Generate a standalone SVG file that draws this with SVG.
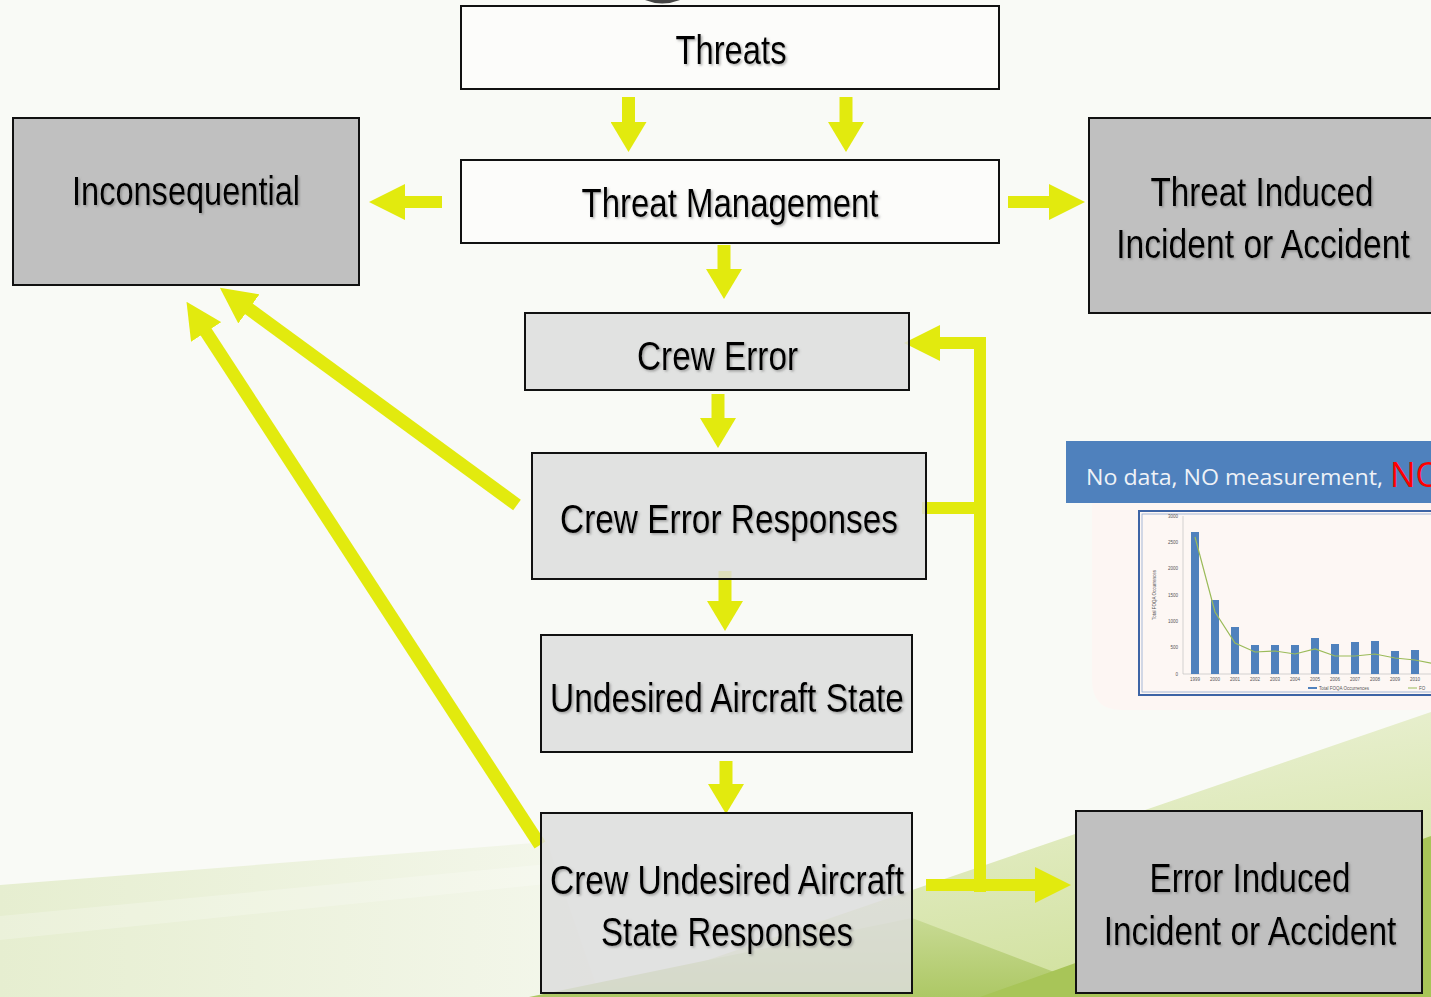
<svg xmlns="http://www.w3.org/2000/svg" width="1431" height="997" viewBox="0 0 1431 997">
  <defs>
    <style>
      .box { stroke: #111; stroke-width: 2; }
      .white { fill: #fcfcfa; }
      .light { fill: #dcdcdc; fill-opacity: 0.84; }
      .dark { fill: #c0c0c0; }
      .lbl { font-family: "Liberation Sans Narrow", "Liberation Sans", Arial, sans-serif; font-size: 40px; fill: #000; text-anchor: middle; filter: url(#shadow); }
      .conn { fill: none; stroke: #e2ea0e; stroke-width: 13; stroke-linejoin: miter; }
      .tick { font-family: "Liberation Sans", Arial, sans-serif; font-size: 4.5px; fill: #555; }
    </style>
    <filter id="shadow" filterUnits="userSpaceOnUse" x="-2000" y="-2000" width="6000" height="6000">
      <feDropShadow dx="1.5" dy="1.5" stdDeviation="1" flood-color="#666" flood-opacity="0.55"/>
    </filter>
    <!-- arrowheads, base at the path end -->
    <marker id="head" markerUnits="userSpaceOnUse" viewBox="0 0 30 36" refX="1" refY="18" markerWidth="30" markerHeight="36" orient="auto">
      <path d="M0,0 L30,18 L0,36 Z" fill="#e2ea0e"/>
    </marker>
    <marker id="headLong" markerUnits="userSpaceOnUse" viewBox="0 0 36 36" refX="1" refY="18" markerWidth="36" markerHeight="36" orient="auto">
      <path d="M0,0 L36,18 L0,36 Z" fill="#e2ea0e"/>
    </marker>
    <linearGradient id="greenR" x1="0.3" y1="0" x2="0.7" y2="1">
      <stop offset="0" stop-color="#eef3dc"/>
      <stop offset="1" stop-color="#cfe09a"/>
    </linearGradient>
    <linearGradient id="greenL" x1="0" y1="0" x2="1" y2="0">
      <stop offset="0" stop-color="#e6eed0"/>
      <stop offset="1" stop-color="#f4f7ec"/>
    </linearGradient>
    <linearGradient id="greenMid" x1="0" y1="0" x2="0" y2="1">
      <stop offset="0" stop-color="#c8da94"/>
      <stop offset="1" stop-color="#adc865"/>
    </linearGradient>
    <clipPath id="panelClip">
      <path d="M1092,503 H1431 V710 H1122 Q1092,710 1092,680 Z"/>
    </clipPath>
  </defs>

  <!-- page background -->
  <rect x="0" y="0" width="1431" height="997" fill="#f9faf6"/>
  <g id="backdrop">
    <polygon points="0,885 547,842 600,997 0,997" fill="url(#greenL)"/>
    <polygon points="0,916 547,864 547,884 0,940" fill="#ffffff" opacity="0.22"/>
    <polygon points="600,997 1431,712 1431,997" fill="url(#greenR)"/>
    <polygon points="529,997 912,918 1120,997" fill="url(#greenMid)"/>
    <polygon points="980,997 1431,836 1431,997" fill="#a8c558"/>
    <path d="M645,0 Q662,7 680,0 Z" fill="#444"/>
  </g>

  <!-- chart panel -->
  <g id="chart">
    <rect x="1066" y="441" width="370" height="62" fill="#4f81bd"/>
    <text x="1086" y="485" font-family="'Open Sans', 'Liberation Sans', sans-serif" font-size="22" fill="#eef2f7" textLength="297" lengthAdjust="spacingAndGlyphs">No data, NO measurement,</text>
    <text x="1390" y="487" font-family="'Open Sans', 'Liberation Sans', sans-serif" font-size="34" fill="#ff0000">NO</text>
    <path d="M1092,503 H1431 V710 H1122 Q1092,710 1092,680 Z" fill="#fdf6f3"/>
    <g clip-path="url(#panelClip)">
      <rect x="1139" y="511" width="300" height="184" fill="#fdf7f4" stroke="#3d64a5" stroke-width="2"/>
      <rect x="1142" y="514" width="300" height="178" fill="none" stroke="#8fa9d0" stroke-width="0.8"/>
      <line x1="1183" y1="516" x2="1183" y2="674" stroke="#bbb" stroke-width="0.6"/>
      <line x1="1183" y1="674" x2="1431" y2="674" stroke="#bbb" stroke-width="0.6"/>
      <g class="tick" text-anchor="end">
        <text x="1178" y="518">3000</text>
        <text x="1178" y="544">2500</text>
        <text x="1178" y="570">2000</text>
        <text x="1178" y="597">1500</text>
        <text x="1178" y="623">1000</text>
        <text x="1178" y="649">500</text>
        <text x="1178" y="676">0</text>
      </g>
      <text class="tick" transform="translate(1156,595) rotate(-90)" text-anchor="middle">Total FOQA Occurrences</text>
      <g fill="#4f81bd">
        <rect x="1191" y="532" width="8" height="142"/>
        <rect x="1211" y="600" width="8" height="74"/>
        <rect x="1231" y="627" width="8" height="47"/>
        <rect x="1251" y="645" width="8" height="29"/>
        <rect x="1271" y="645" width="8" height="29"/>
        <rect x="1291" y="645" width="8" height="29"/>
        <rect x="1311" y="638" width="8" height="36"/>
        <rect x="1331" y="644" width="8" height="30"/>
        <rect x="1351" y="642" width="8" height="32"/>
        <rect x="1371" y="641" width="8" height="33"/>
        <rect x="1391" y="651" width="8" height="23"/>
        <rect x="1411" y="650" width="8" height="24"/>
      </g>
      <polyline points="1195,537 1215,612 1235,643 1255,652 1275,651 1295,654 1315,649 1335,656 1355,656 1375,654 1395,658 1415,660 1435,664" fill="none" stroke="#9bbb59" stroke-width="1.2"/>
      <g class="tick" font-size="3.5" text-anchor="middle">
        <text x="1195" y="681">1999</text>
        <text x="1215" y="681">2000</text>
        <text x="1235" y="681">2001</text>
        <text x="1255" y="681">2002</text>
        <text x="1275" y="681">2003</text>
        <text x="1295" y="681">2004</text>
        <text x="1315" y="681">2005</text>
        <text x="1335" y="681">2006</text>
        <text x="1355" y="681">2007</text>
        <text x="1375" y="681">2008</text>
        <text x="1395" y="681">2009</text>
        <text x="1415" y="681">2010</text>
      </g>
      <rect x="1308" y="687" width="9" height="2" fill="#4f81bd"/>
      <text class="tick" x="1319" y="690" font-size="4">Total FOQA Occurrences</text>
      <rect x="1408" y="687.5" width="9" height="1" fill="#9bbb59"/>
      <text class="tick" x="1419" y="690" font-size="4">FO</text>
    </g>
  </g>

  <!-- connectors -->
  <g id="connectors" class="conn">
    <path d="M628.5,97 V123" marker-end="url(#head)"/>
    <path d="M846,97 V123" marker-end="url(#head)"/>
    <path d="M724,245 V270" marker-end="url(#head)"/>
    <path d="M442,202 H404" stroke-width="12" marker-end="url(#headLong)"/>
    <path d="M1008,202 H1050" stroke-width="12" marker-end="url(#headLong)"/>
    <path d="M718,394 V419" marker-end="url(#head)"/>
    <path d="M725,571 V602" marker-end="url(#head)"/>
    <path d="M726,761 V785" marker-end="url(#head)"/>
    <path d="M517,505 L248.1,308.3" marker-end="url(#headLong)"/>
    <path d="M540,845 L205.6,331.2" marker-end="url(#headLong)"/>
    <path d="M922,508 H986" stroke-width="12"/>
    <path d="M980,892 V343 H939" stroke-width="12" marker-end="url(#headLong)"/>
    <path d="M926,885 H1036" stroke-width="12" marker-end="url(#headLong)"/>
  </g>

  <!-- nodes -->
  <g id="threats">
    <rect class="box white" x="461" y="6" width="538" height="83"/>
    <text class="lbl" x="731" y="64" textLength="111" lengthAdjust="spacingAndGlyphs">Threats</text>
  </g>
  <g id="threat-management">
    <rect class="box white" x="461" y="160" width="538" height="83"/>
    <text class="lbl" x="730" y="217" textLength="297" lengthAdjust="spacingAndGlyphs">Threat Management</text>
  </g>
  <g id="inconsequential">
    <rect class="box dark" x="13" y="118" width="346" height="167"/>
    <text class="lbl" x="186" y="205" textLength="228" lengthAdjust="spacingAndGlyphs">Inconsequential</text>
  </g>
  <g id="threat-induced">
    <rect class="box dark" x="1089" y="118" width="350" height="195"/>
    <text class="lbl" x="1262" y="206" textLength="223" lengthAdjust="spacingAndGlyphs">Threat Induced</text>
    <text class="lbl" transform="translate(1263,258) scale(0.82,1)" x="0" y="0" textLength="358" lengthAdjust="spacingAndGlyphs">Incident or Accident</text>
  </g>
  <g id="crew-error">
    <rect class="box light" x="525" y="313" width="384" height="77"/>
    <text class="lbl" x="717.5" y="370" textLength="161" lengthAdjust="spacingAndGlyphs">Crew Error</text>
  </g>
  <g id="crew-error-responses">
    <rect class="box light" x="532" y="453" width="394" height="126"/>
    <text class="lbl" x="729" y="533" textLength="338" lengthAdjust="spacingAndGlyphs">Crew Error Responses</text>
  </g>
  <g id="undesired-aircraft-state">
    <rect class="box light" x="541" y="635" width="371" height="117"/>
    <text class="lbl" x="727" y="712" textLength="354" lengthAdjust="spacingAndGlyphs">Undesired Aircraft State</text>
  </g>
  <g id="crew-uas-responses">
    <rect class="box light" x="541" y="813" width="371" height="180"/>
    <text class="lbl" x="727" y="894" textLength="354" lengthAdjust="spacingAndGlyphs">Crew Undesired Aircraft</text>
    <text class="lbl" x="727" y="946" textLength="252" lengthAdjust="spacingAndGlyphs">State Responses</text>
  </g>
  <g id="error-induced">
    <rect class="box dark" x="1076" y="811" width="346" height="182"/>
    <text class="lbl" x="1250" y="892" textLength="201" lengthAdjust="spacingAndGlyphs">Error Induced</text>
    <text class="lbl" transform="translate(1250,945) scale(0.82,1)" x="0" y="0" textLength="357" lengthAdjust="spacingAndGlyphs">Incident or Accident</text>
  </g>
</svg>
